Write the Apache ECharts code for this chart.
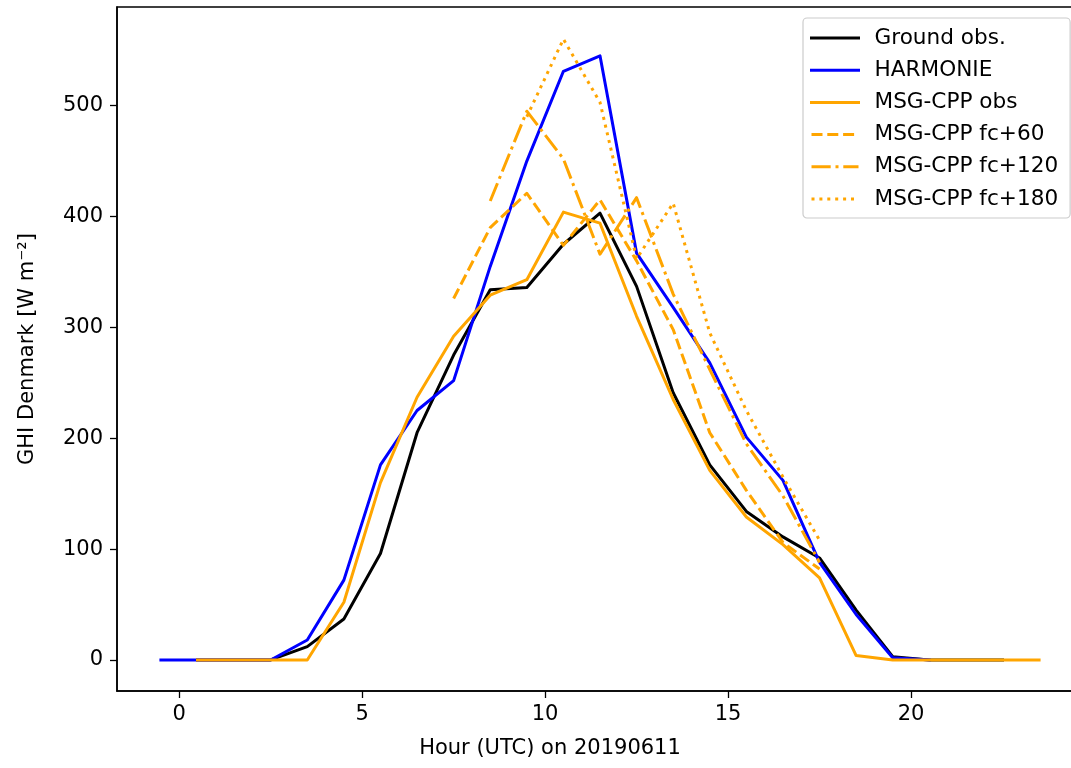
<!DOCTYPE html>
<html>
<head>
<meta charset="utf-8">
<script src="https://cdn.jsdelivr.net/npm/echarts@6/dist/echarts.min.js"></script>
<style>html,body{margin:0;padding:0;background:#fff}#c{width:1071px;height:768px}</style>
</head>
<body>
<div id="c"></div>
<script>
const hours = [-0.5,0.5,1.5,2.5,3.5,4.5,5.5,6.5,7.5,8.5,9.5,10.5,11.5,12.5,13.5,14.5,15.5,16.5,17.5,18.5,19.5,20.5,21.5,22.5,23.5];
const groundObs = [null,0,0,0,12,37,96,205,275,334,336,375,403,337,241,176,134,111,92,45,3,0,0,0,null];
const harmonie  = [0,0,0,0,18,72,176,225,252,355,450,531,545,367,318,268,201,162,88,41,2,0,null,null,null];
const msgObs    = [null,0,0,0,0,52,160,237,292,329,343,404,394,310,235,171,129,104,74,4,0,0,0,0,0];
const msgFc60   = [null,null,null,null,null,null,null,null,326,390,421,374,415,360,298,205,153,106,82,null,null,null,null,null,null];
const msgFc120  = [null,null,null,null,null,null,null,null,null,414,495,452,366,417,330,262,195,148,88,null,null,null,null,null,null];
const msgFc180  = [null,null,null,null,null,null,null,null,null,null,490,560,503,362,412,295,225,165,108,null,null,null,null,null,null];
const xTicks = [0,5,10,15,20];
const yTicks = [0,100,200,300,400,500];
const seriesNames = ['Ground obs.','HARMONIE','MSG-CPP obs','MSG-CPP fc+60','MSG-CPP fc+120','MSG-CPP fc+180'];

const pair = arr => hours.map((h,i)=>[h, arr[i]]);
const LW = 3;
const FONT = 'DejaVu Sans';
function mk(name, data, color, type){
  return {name, type:'line', data:pair(data), showSymbol:false, symbol:'none',
    connectNulls:false, animation:false,
    lineStyle:{color, width:LW, type, cap: Array.isArray(type)?'butt':'square', join:'round'},
    itemStyle:{color}};
}
const chart = echarts.init(document.getElementById('c'), null, {renderer:'canvas'});
chart.setOption({
  animation:false,
  backgroundColor:'#ffffff',
  textStyle:{fontFamily:FONT},
  grid:{left:117, right:-12, top:7, bottom:77, show:true, borderColor:'#000', borderWidth:1.5,
        containLabel:false, outerBoundsMode:'none'},
  xAxis:{type:'value', min:-1.7, max:24.7,
    name:'Hour (UTC) on 20190611', nameLocation:'middle', nameGap:47,
    nameTextStyle:{fontSize:21, color:'#000', fontFamily:FONT, padding:[0,100,0,0]},
    splitLine:{show:false},
    axisLine:{show:true, onZero:false, lineStyle:{color:'#000', width:1.5}},
    axisTick:{show:true, length:7, lineStyle:{color:'#000', width:1.3}, customValues:xTicks},
    axisLabel:{fontSize:21, color:'#000', margin:13, fontFamily:FONT, customValues:xTicks}},
  yAxis:{type:'value', min:-28, max:589,
    name:'GHI Denmark [W m\u207B\u00B2]', nameLocation:'middle', nameGap:79,
    nameTextStyle:{fontSize:21, color:'#000', fontFamily:FONT},
    splitLine:{show:false},
    axisLine:{show:true, onZero:false, lineStyle:{color:'#000', width:1.5}},
    axisTick:{show:true, length:7, lineStyle:{color:'#000', width:1.3}, customValues:yTicks},
    axisLabel:{fontSize:21, color:'#000', margin:14, fontFamily:FONT, customValues:yTicks}},
  legend:{show:true, orient:'vertical', left:803, top:18,
    data:seriesNames,
    itemWidth:47, itemHeight:14, itemGap:10.2,
    padding:[9,12,8,7],
    itemStyle:{opacity:0},
    lineStyle:{width:3},
    backgroundColor:'rgba(255,255,255,0.8)', borderColor:'#cccccc', borderWidth:1.2, borderRadius:4,
    textStyle:{fontSize:21.6, color:'#000', fontFamily:FONT, lineHeight:22, padding:[0,0,0,11]}},
  series:[
    mk(seriesNames[0], groundObs, '#000000', 'solid'),
    mk(seriesNames[1], harmonie, '#0000ff', 'solid'),
    mk(seriesNames[2], msgObs, '#ffa500', 'solid'),
    mk(seriesNames[3], msgFc60, '#ffa500', [11,4.8]),
    mk(seriesNames[4], msgFc120, '#ffa500', [19.2,4.8,3,4.8]),
    mk(seriesNames[5], msgFc180, '#ffa500', [3,4.9])
  ]
});
</script>
</body>
</html>
